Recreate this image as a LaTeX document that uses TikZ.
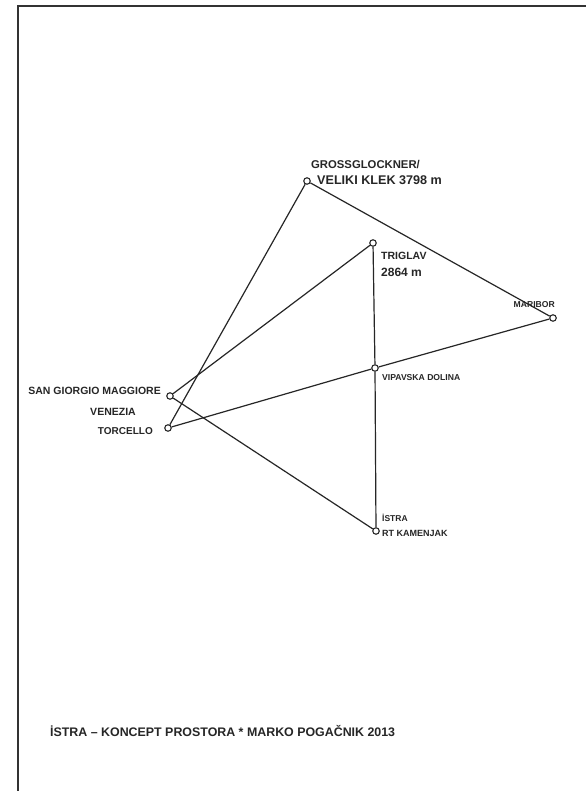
\documentclass[tikz,border=0pt]{standalone}
\usepackage{fontspec}
\setmainfont{Liberation Sans}
\begin{document}
\begin{tikzpicture}[x=1pt,y=-1pt,
  pt/.style={circle,draw=black!85,fill=white,line width=1.1pt,inner sep=0pt,minimum size=6.5pt},
  link/.style={draw=black!85,line width=1.2pt},
  lbl/.style={inner sep=0pt,text=black!85,font=\bfseries\fontsize{9}{10}\selectfont},
  lbll/.style={lbl,anchor=west},
  lblr/.style={lbl,anchor=east}]
\useasboundingbox (0,0) rectangle (586,791);
\fill[white] (0,0) rectangle (586,791);
% frame
\draw[black!80,line width=1.3pt] (18,791) -- (18,6) -- (586,6);
% points
\node[pt] (gg) at (307,181) {};
\node[pt] (tg) at (373,243) {};
\node[pt] (mb) at (553,318) {};
\node[pt] (vp) at (375,368) {};
\node[pt] (sg) at (170,396) {};
\node[pt] (tc) at (168,428) {};
\node[pt] (is) at (376,531) {};
% connectors
\draw[link] (gg) -- (mb);
\draw[link] (gg) -- (tc);
\draw[link] (tg) -- (sg);
\draw[link] (tg) -- (vp);
\draw[link] (vp) -- (is);
\draw[link] (tc) -- (vp);
\draw[link] (vp) -- (mb);
\draw[link] (sg) -- (is);
% labels
\node[lbll,font=\bfseries\fontsize{11.3}{12}\selectfont] (l1) at (311,165) {GROSSGLOCKNER/};
\node[lbll,font=\bfseries\fontsize{12.6}{12}\selectfont] (l2) at (317,180) {VELIKI KLEK 3798 m};
\node[lbll,font=\bfseries\fontsize{10.5}{12}\selectfont] (l3) at (381,256) {TRIGLAV};
\node[lbll,font=\bfseries\fontsize{12}{12}\selectfont] (l4) at (381,272) {2864 m};
\node[lblr,font=\bfseries\fontsize{8.6}{10}\selectfont] (l5) at (555,305) {MARIBOR};
\node[lbll,font=\bfseries\fontsize{8.6}{10}\selectfont] (l6) at (382,378) {VIPAVSKA DOLINA};
\node[lblr,font=\bfseries\fontsize{10.5}{10}\selectfont] (l7) at (161,391) {SAN GIORGIO MAGGIORE};
\node[lbl,font=\bfseries\fontsize{10.5}{10}\selectfont] (l8) at (113,412) {VENEZIA};
\node[lblr,font=\bfseries\fontsize{10}{10}\selectfont] (l9) at (153,431) {TORCELLO};
\node[lbll,font=\bfseries\fontsize{8.5}{10}\selectfont] (l10) at (382,518) {İSTRA};
\node[lbll,font=\bfseries\fontsize{9}{10}\selectfont] (l11) at (382,533) {RT KAMENJAK};
\node[lbll,font=\bfseries\fontsize{12.4}{12}\selectfont] (cap) at (50,731) {İSTRA – KONCEPT PROSTORA * MARKO POGAČNIK 2013};
\end{tikzpicture}
\end{document}
